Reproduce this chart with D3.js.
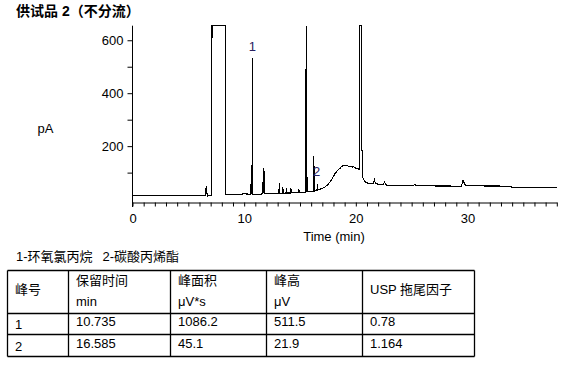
<!DOCTYPE html>
<html>
<head>
<meta charset="utf-8">
<script src="https://cdn.jsdelivr.net/npm/d3@7"></script>
<style>
  body { margin: 0; background: #fff; }
  text { font-family: "Liberation Sans", Arial, "Noto Sans CJK SC", sans-serif; fill: #000; }
</style>
</head>
<body>
<div id="chart"></div>
<script>
// chromatogram trace (time in min, signal in pA)
const traceTime = [0, 3.3, 3.4, 3.6, 3.7, 6.55, 6.6, 6.68, 6.72, 6.8,
  7.08, 7.12, 8.3, 8.34, 8.6, 8.8, 9.0, 9.2, 9.5, 9.7, 10.0, 10.3, 10.55, 10.6, 10.65, 10.7, 10.74, 10.78,
  11.0, 11.3, 11.68, 11.71, 11.74, 11.77, 11.8, 12.5, 13.1, 13.16, 13.2, 13.42, 13.46, 13.5,
  13.76, 13.8, 13.84, 14.14, 14.18, 14.22, 14.86, 14.9, 14.94, 15.5, 15.56, 15.6, 15.64, 15.68,
  16.2, 16.24, 16.28, 16.52, 16.56, 16.6, 16.8, 17.0, 17.25, 17.5, 17.7, 17.85, 18.0, 18.15, 18.3,
  18.45, 18.6, 18.75, 18.9, 19.05, 19.2, 19.35, 19.5, 19.65, 19.8, 20.0, 20.15, 20.32, 20.36, 20.52,
  20.55, 20.62, 20.64, 20.83, 21.13, 21.58, 21.67, 21.75, 21.88, 22.47, 22.58, 22.68, 22.8,
  25.1, 25.3, 25.45, 29.45, 29.6, 29.7, 29.85, 33.85, 33.95, 38];
const traceSignal = [13, 13, 15, 14, 13, 13, 49, 20, 10, 13,
  13, 655, 655, 16, 18, 17, 19, 18, 19, 18, 20, 19, 19, 55, 21, 19, 532, 18,
  17, 18, 20, 118, 22, 116, 21, 21, 22, 61, 22, 22, 46, 22,
  23, 41, 23, 23, 43, 24, 24, 37, 25, 26, 655, 27, 84, 27,
  28, 162, 30, 32, 58, 34, 37, 41, 46, 55, 65, 75, 86, 97, 105,
  112, 117, 124, 126, 125, 127, 124, 125, 121, 122, 117, 116, 112, 655, 655,
  185, 185, 79, 65, 59, 59, 72, 60, 57, 56, 65, 54, 52,
  51, 55, 50, 49, 70, 62, 50, 49, 44, 44];

const peakNames = ["1", "2"];
const peakLabelTime = [10.74, 16.5];
const peakLabelPA = [560, 86];

const yTicks = [100, 200, 300, 400, 500, 600];
const xTicks = d3.range(0, 39);

const legendItems = ["1-环氧氯丙烷", "2-碳酸丙烯酯"];
const tableHead1 = ["峰号", "保留时间", "峰面积", "峰高", "USP 拖尾因子"];
const tableHead2 = ["", "min", "μV*s", "μV", ""];
const tableRows = [
  ["1", "10.735", "1086.2", "511.5", "0.78"],
  ["2", "16.585", "45.1", "21.9", "1.164"]
];

const width = 568, height = 374;
const svg = d3.select("#chart").append("svg")
  .attr("width", width)
  .attr("height", height);

const x = d3.scaleLinear().domain([0, 38]).range([132.5, 556.8]);
const y = d3.scaleLinear().domain([-11, 655]).range([202, 25.7]);

// title
svg.append("text")
  .attr("x", 16).attr("y", 16)
  .style("font-size", "14px").style("font-weight", "bold")
  .text("供试品 2（不分流）");

// y axis
const yAxis = svg.append("g")
  .attr("transform", "translate(132.5,0)")
  .call(d3.axisLeft(y).tickValues(yTicks).tickSize(5).tickPadding(4)
    .tickFormat(d => d % 200 === 0 ? d : ""));
yAxis.select(".domain").remove();
yAxis.selectAll("text").style("font-size", "13px").attr("font-family", null);
yAxis.append("line")
  .attr("x1", 0).attr("x2", 0)
  .attr("y1", 25.7).attr("y2", 207)
  .attr("stroke", "#000");

// x axis
const xAxis = svg.append("g")
  .attr("transform", "translate(0,202.5)")
  .call(d3.axisBottom(x).tickValues(xTicks).tickSize(4).tickSizeOuter(0).tickPadding(7)
    .tickFormat(d => d % 10 === 0 ? d : ""));
xAxis.selectAll("text").style("font-size", "13px").attr("font-family", null);

svg.append("text")
  .attr("x", 334).attr("y", 241)
  .attr("text-anchor", "middle")
  .style("font-size", "13px")
  .text("Time (min)");

svg.append("text")
  .attr("x", 37.5).attr("y", 132.5)
  .style("font-size", "13px")
  .text("pA");

// trace
const line = d3.line()
  .x((d, i) => x(traceTime[i]))
  .y(d => y(d));

svg.append("path")
  .datum(traceSignal)
  .attr("d", line)
  .attr("fill", "none")
  .attr("stroke", "#000")
  .attr("stroke-width", 1.1)
  .attr("shape-rendering", "crispEdges");

svg.selectAll(".peak-label")
  .data(peakNames)
  .enter().append("text")
  .attr("class", "peak-label")
  .attr("x", (d, i) => x(peakLabelTime[i]))
  .attr("y", (d, i) => y(peakLabelPA[i]))
  .attr("text-anchor", "middle")
  .style("font-size", "13px")
  .style("fill", "#2a2060")
  .text(d => d);

// legend line
svg.selectAll(".legend")
  .data(legendItems)
  .enter().append("text")
  .attr("x", (d, i) => i === 0 ? 16 : 102.5)
  .attr("y", 261)
  .style("font-size", "13px")
  .text(d => d);

// table
const colX = [7.5, 68.5, 170.5, 266.5, 362.5, 474.5];
const rowY = [270.5, 313.5, 334.5, 356.5];
const tbl = svg.append("g");

colX.forEach(cx => tbl.append("line")
  .attr("x1", cx).attr("x2", cx).attr("y1", rowY[0]).attr("y2", rowY[3])
  .attr("stroke", "#000").attr("stroke-width", 1.3));
rowY.forEach(ry => tbl.append("line")
  .attr("x1", colX[0]).attr("x2", colX[5]).attr("y1", ry).attr("y2", ry)
  .attr("stroke", "#000").attr("stroke-width", 1.3));

tableHead1.forEach((t, i) => {
  const single = tableHead2[i] === "";
  tbl.append("text")
    .attr("x", colX[i] + 7.5)
    .attr("y", single ? 294 : 285)
    .style("font-size", "13px")
    .text(t);
  if (!single) {
    tbl.append("text")
      .attr("x", colX[i] + 7.5)
      .attr("y", 305.5)
      .style("font-size", "13px")
      .text(tableHead2[i]);
  }
});

tableRows.forEach((row, r) => {
  row.forEach((t, i) => {
    tbl.append("text")
      .attr("x", colX[i] + 7.5)
      .attr("y", (r === 0 ? 326 : 348) + (i === 0 ? 3 : 0))
      .style("font-size", "13px")
      .text(t);
  });
});
</script>
</body>
</html>
